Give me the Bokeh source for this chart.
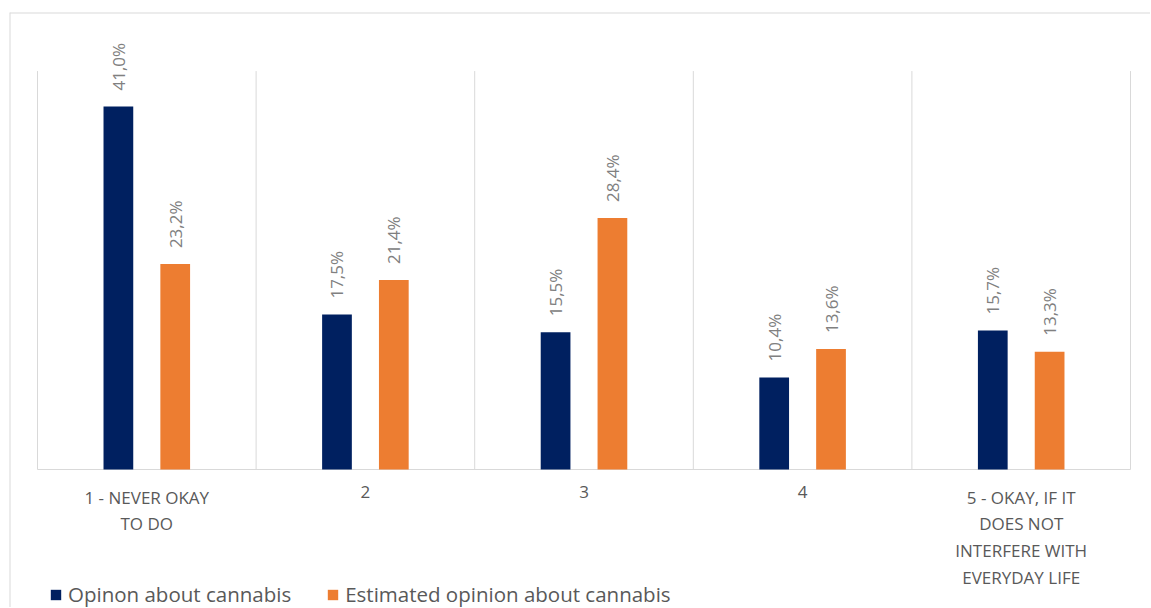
from bokeh.plotting import figure
from bokeh.models import ColumnDataSource, LabelSet, Legend, LegendItem, Range1d, Span
from bokeh.core.properties import value
from bokeh.embed import file_html
from bokeh.resources import INLINE
import math

categories = ["1 - NEVER OKAY\nTO DO", "2", "3", "4", "5 - OKAY, IF IT\nDOES NOT\nINTERFERE WITH\nEVERYDAY LIFE"]
series_names = ["Opinon about cannabis", "Estimated opinion about cannabis"]
opinion = [41.0, 17.5, 15.5, 10.4, 15.7]
estimated = [23.2, 21.4, 28.4, 13.6, 13.3]
colors = ["#002060", "#ED7D31"]

FONT = "Open Sans"
GRID = "#d9d9d9"
n = len(categories)

x0, x1 = -0.12809, n + 0.09149
y0, y1 = -15.586, 51.615

p = figure(width=1150, height=607, output_backend="svg", toolbar_location=None,
           x_range=Range1d(x0, x1), y_range=Range1d(y0, y1),
           min_border_left=9, min_border_right=0, min_border_top=12, min_border_bottom=0)
p.outline_line_color = None
p.xgrid.visible = False
p.ygrid.visible = False
p.xaxis.visible = False
p.yaxis.visible = False

# chart border (top / left)
p.add_layout(Span(location=y1, dimension="width", line_color=GRID, line_width=2))
p.add_layout(Span(location=x0, dimension="height", line_color=GRID, line_width=2))

# vertical separators between categories and baseline
bounds = list(range(n + 1))
p.segment(x0=bounds, y0=[0] * len(bounds), x1=bounds, y1=[45] * len(bounds),
          line_color=GRID, line_width=1)
p.segment(x0=[0], y0=[0], x1=[n], y1=[0], line_color=GRID, line_width=1)

idx = list(range(n))
off = 0.13
w = 0.136
renderers = []
for vals, col, sgn in [(opinion, colors[0], -1), (estimated, colors[1], 1)]:
    xs = [i + 0.5 + sgn * off for i in idx]
    labels = [f"{v:.1f}".replace(".", ",") + "%" for v in vals]
    src = ColumnDataSource(dict(x=xs, top=vals, lab=labels))
    r = p.vbar(x="x", top="top", width=w, bottom=0, source=src, fill_color=col, line_color=None)
    renderers.append(r)
    ls = LabelSet(x="x", y="top", text="lab", source=src, angle=math.pi / 2,
                  text_align="left", text_baseline="middle", y_offset=16,
                  text_font=value(FONT), text_font_size="17px", text_color="#808080")
    p.add_layout(ls)

# category labels
cat_src = ColumnDataSource(dict(x=[i + 0.5 for i in idx], y=[0] * n, t=categories))
p.text(x="x", y="y", text="t", source=cat_src, text_align="center", text_baseline="top",
       y_offset=16, text_font=value(FONT), text_font_size="17px", text_color="#595959",
       text_line_height=1.16)

legend = Legend(items=[LegendItem(label=series_names[i], renderers=[renderers[i]]) for i in range(2)],
                orientation="horizontal", location=(40, -1),
                label_text_font=FONT, label_text_font_size="20.5px", label_text_color="#595959",
                glyph_width=13, glyph_height=13, label_standoff=6, spacing=35, label_height=20,
                border_line_color=None, background_fill_alpha=0, padding=0, margin=0)
p.add_layout(legend)

open("out.html", "w").write(file_html(p, INLINE))
